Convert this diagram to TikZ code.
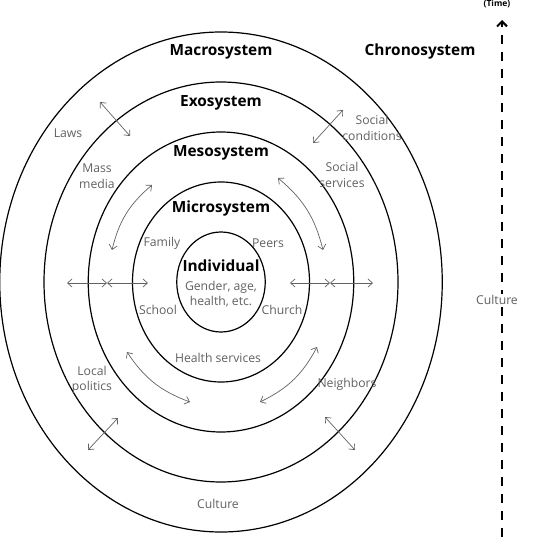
\documentclass[tikz,border=0pt]{standalone}
\usepackage{fontspec}
\setmainfont{Open Sans}
\usepackage{tikz}
\usetikzlibrary{arrows.meta}

\definecolor{labelgray}{gray}{0.38}

\tikzset{
  sistema/.style={font=\bfseries\fontsize{15.4}{17}\selectfont},
  voce/.style={text=labelgray,font=\fontsize{12.2}{15.5}\selectfont,align=center,inner sep=1pt},
  freccia/.style={<->,draw=labelgray,line width=0.7pt},
}

\begin{document}
\begin{tikzpicture}[x=1pt,y=-1pt,>={Straight Barb[length=4.5pt,width=8pt]}]
  \useasboundingbox (0,0) rectangle (543,537);

  % Sistemi
  \coordinate (c) at (221,282);
  \foreach \i in {1,...,5}
    \draw[line width=1.2pt] (c) ellipse [x radius={44.25*\i},y radius={50*\i}];

  \node[sistema] (macro) at (221,52) {Macrosystem};
  \node[sistema] (exo) at (221,103) {Exosystem};
  \node[sistema] (meso) at (221,153) {Mesosystem};
  \node[sistema] (micro) at (221,209) {Microsystem};
  \node[sistema] (indiv) at (221,266) {Individual};
  \node[sistema] (chrono) at (420,52) {Chronosystem};

  % Voci
  \node[voce] (gender) at (221,294) {Gender, age,\\health, etc.};
  \node[voce] (laws) at (68,133) {Laws};
  \node[voce] (massmedia) at (97,176) {Mass\\media};
  \node[voce] (socialcond) at (372,128) {Social\\conditions};
  \node[voce] (socialserv) at (342,175) {Social\\services};
  \node[voce] (family) at (162,243) {Family};
  \node[voce] (peers) at (268,243) {Peers};
  \node[voce] (school) at (158,310) {School};
  \node[voce] (church) at (282,310) {Church};
  \node[voce] (healthserv) at (218,358) {Health services};
  \node[voce] (localpol) at (92,380) {Local\\politics};
  \node[voce] (neighbors) at (347,384) {Neighbors};
  \node[voce] (culture) at (218,504) {Culture};

  % Frecce
  \coordinate (laws1) at (100,102);
  \coordinate (laws2) at (130,136);
  \coordinate (cond1) at (343,110);
  \coordinate (cond2) at (313,143);
  \coordinate (pol1) at (118,418);
  \coordinate (pol2) at (88,450);
  \coordinate (neigh1) at (325,417);
  \coordinate (neigh2) at (355,450);
  \coordinate (ml1) at (152,185);
  \coordinate (ml2) at (112,250);
  \coordinate (mr1) at (278,178);
  \coordinate (mr2) at (323,250);
  \coordinate (ll1) at (127,352);
  \coordinate (ll2) at (190,402);
  \coordinate (lr1) at (317,347);
  \coordinate (lr2) at (260,402);
  \coordinate (hl1) at (67,283);
  \coordinate (hl2) at (107,283);
  \coordinate (hl3) at (148,283);
  \coordinate (hr1) at (290,283);
  \coordinate (hr2) at (330,283);
  \coordinate (hr3) at (373,283);

  \draw[freccia] (laws1) -- (laws2);
  \draw[freccia] (cond1) -- (cond2);
  \draw[freccia] (pol1) -- (pol2);
  \draw[freccia] (neigh1) -- (neigh2);
  \draw[freccia] (ml1) to[bend right=18] (ml2);
  \draw[freccia] (mr1) to[bend left=18] (mr2);
  \draw[freccia] (ll1) to[bend right=18] (ll2);
  \draw[freccia] (lr1) to[bend left=18] (lr2);
  \draw[freccia] (hl1) -- (hl2);
  \draw[freccia] (hl2) -- (hl3);
  \draw[freccia] (hr1) -- (hr2);
  \draw[freccia] (hr2) -- (hr3);

  % Tempo
  \coordinate (tbot) at (502,537);
  \coordinate (ttop) at (502,20);
  \draw[-{Straight Barb[length=5pt,width=10pt]},line width=2pt,dash pattern=on 9pt off 8pt] (tbot) -- (ttop);
  \node[voce,fill=white] (tculture) at (497,300) {Culture};
  \node[font=\bfseries\fontsize{8.5}{10}\selectfont] (time) at (497,4) {(Time)};

\end{tikzpicture}
\end{document}
